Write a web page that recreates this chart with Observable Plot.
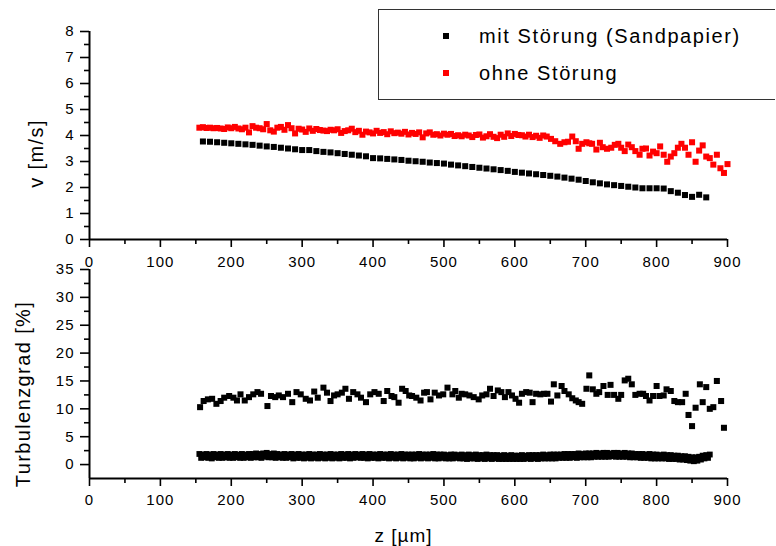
<!DOCTYPE html>
<html>
<head>
<meta charset="utf-8">
<script src="https://cdn.jsdelivr.net/npm/d3@7"></script>
<script src="https://cdn.jsdelivr.net/npm/@observablehq/plot@0.6"></script>
<style>
  html, body { margin: 0; padding: 0; background: #fff; }
  #wrap { position: relative; width: 776px; height: 546px; overflow: hidden; font-family: "Liberation Sans", Arial, sans-serif; }
  #wrap svg { position: absolute; left: 0; }
  #legend { position: absolute; left: 378px; top: 9px; width: 396px; height: 89px; border: 1px solid #333; border-right: none; background: #fff; box-sizing: content-box; }
  .lg-row { position: absolute; left: 0; height: 24px; line-height: 24px; font-size: 20px; letter-spacing: 1.6px; color: #000; white-space: nowrap; }
  .lg-sq { position: absolute; width: 6px; height: 6px; }
  .lg-tx { position: absolute; left: 100px; top: 0; }
</style>
</head>
<body>
<div id="wrap">
  <div id="legend"></div>
</div>
<script>
// ---------- data ----------
const seriesNames = ["mit Störung (Sandpapier)", "ohne Störung"];
const seriesColors = ["#000000", "#ff0000"];

// top panel, "mit Störung (Sandpapier)": z [µm], v [m/s]
const mitZ = [160,170,180,190,200,210,220,230,240,250,260,270,280,290,300,310,320,330,340,350,
  360,370,380,390,400,410,420,430,440,450,460,470,480,490,500,510,520,530,540,550,
  560,570,580,590,600,610,620,630,640,650,660,670,680,690,700,710,720,730,740,750,
  760,770,780,790,800,810,820,830,840,850,860,870];
const mitV = [3.77,3.76,3.74,3.72,3.70,3.68,3.66,3.64,3.61,3.58,3.56,3.53,3.50,3.47,3.44,3.44,3.40,3.37,3.35,3.32,
  3.29,3.26,3.23,3.20,3.13,3.12,3.10,3.08,3.06,3.03,3.01,2.99,2.96,2.94,2.92,2.88,2.85,2.82,2.79,2.76,
  2.73,2.70,2.67,2.64,2.60,2.57,2.54,2.51,2.48,2.45,2.42,2.38,2.34,2.30,2.25,2.20,2.16,2.12,2.09,2.06,
  2.03,2.00,1.97,1.97,1.97,1.96,1.86,1.80,1.71,1.64,1.72,1.62];

// top panel, "ohne Störung": z [µm], v [m/s]
const ohneZ = [155,160,165,170,175,180,185,190,195,200,205,210,215,220,225,230,235,240,245,250,
  255,260,265,270,275,280,285,290,295,300,305,310,315,320,325,330,335,340,345,350,
  355,360,365,370,375,380,385,390,395,400,405,410,415,420,425,430,435,440,445,450,
  455,460,465,470,475,480,485,490,495,500,505,510,515,520,525,530,535,540,545,550,
  555,560,565,570,575,580,585,590,595,600,605,610,615,620,625,630,635,640,
  645,651,657,664,670,675,681,686,690,695,701,705,709,715,720,724,730,736,741,746,
  750,755,760,765,770,776,780,785,790,795,800,805,810,815,820,825,830,835,840,845,
  850,855,860,865,870,875,880,885,890,895,900];
const ohneV = [4.30,4.32,4.29,4.30,4.28,4.29,4.27,4.25,4.31,4.28,4.33,4.27,4.24,4.30,4.12,4.36,4.30,4.28,4.24,4.44,
  4.20,4.15,4.30,4.33,4.22,4.40,4.28,4.08,4.26,4.23,4.14,4.27,4.18,4.25,4.21,4.19,4.17,4.22,4.20,4.24,
  4.10,4.17,4.20,4.26,4.13,4.18,4.03,4.15,4.12,4.08,4.18,4.10,4.13,4.05,4.16,4.09,4.11,4.07,4.14,4.04,
  4.10,4.06,4.12,3.93,4.08,4.12,4.03,4.05,4.00,4.07,4.03,4.06,3.98,4.01,3.97,4.03,4.00,3.94,4.02,4.04,
  3.92,3.97,4.05,3.95,3.90,4.03,3.95,4.08,3.98,4.06,4.02,4.01,3.96,4.03,3.94,3.99,3.91,4.00,
  3.96,3.87,3.78,3.68,3.74,3.76,3.96,3.78,3.49,3.68,3.74,3.70,3.68,3.46,3.72,3.55,3.49,3.53,3.64,3.68,
  3.53,3.40,3.65,3.55,3.40,3.26,3.49,3.50,3.23,3.38,3.32,3.58,3.26,2.99,3.19,3.32,3.53,3.68,3.53,3.26,
  3.74,2.99,3.42,3.62,3.19,3.13,2.88,3.26,2.74,2.56,2.90];

// bottom panel, upper scatter: z [µm], Turbulenzgrad [%]
const tuHighZ = [156,161,167,173,179,185,190,197,203,208,213,219,225,231,237,242,251,256,262,267,
  273,280,286,292,298,305,311,317,322,330,335,340,345,350,356,361,366,372,378,383,
  390,396,402,408,415,420,426,430,436,441,446,451,455,461,467,472,476,481,487,493,
  499,505,512,516,521,525,530,536,542,549,554,560,565,570,576,581,586,591,596,601,
  606,610,616,621,625,630,636,641,646,651,655,660,666,670,676,681,686,690,695,701,
  705,710,715,719,725,731,735,740,746,750,755,760,765,770,776,781,785,790,795,800,
  804,810,814,820,825,830,836,841,845,850,855,861,865,870,875,880,885,891,895];
const tuHighV = [10.3,11.4,11.7,11.8,10.9,11.4,12.0,12.3,12.0,11.5,12.6,11.5,12.1,12.6,13.0,12.7,10.5,12.3,12.1,12.4,
  12.1,12.7,11.2,13.0,12.6,11.8,11.5,13.1,12.0,13.8,12.9,11.4,12.4,12.6,12.9,13.6,11.8,13.0,12.6,12.0,
  11.2,12.6,13.0,12.7,11.4,13.2,12.3,12.1,11.1,13.6,13.2,12.4,12.3,12.0,11.5,12.9,13.0,11.7,12.9,12.4,
  12.6,13.8,12.6,13.2,12.0,12.7,12.6,12.4,12.1,11.7,12.4,12.6,13.6,12.3,13.3,13.0,12.1,13.0,12.4,11.8,
  11.1,12.7,13.0,12.9,11.2,12.7,12.6,12.7,12.7,11.3,14.4,12.4,14.1,13.2,12.6,11.9,11.5,11.2,10.9,13.6,
  16.0,13.5,12.7,13.0,14.1,12.5,14.3,12.5,11.8,12.5,15.1,15.4,14.4,12.5,12.7,12.7,12.3,11.5,12.3,14.1,
  12.3,12.4,13.5,13.2,11.4,11.2,11.2,12.7,8.9,6.9,10.2,14.4,11.2,13.9,10.0,10.3,15.0,11.4,6.6];

// bottom panel, lower (dense) band: z [µm], Turbulenzgrad [%]
const tuLowZ = [
  155,157.5,160,162.5,165,167.5,170,172.5,175,177.5,180,182.5,185,187.5,190,192.5,195,197.5,200,202.5,
  205,207.5,210,212.5,215,217.5,220,222.5,225,227.5,230,232.5,235,237.5,240,242.5,245,247.5,250,252.5,
  255,257.5,260,262.5,265,267.5,270,272.5,275,277.5,280,282.5,285,287.5,290,292.5,295,297.5,300,302.5,
  305,307.5,310,312.5,315,317.5,320,322.5,325,327.5,330,332.5,335,337.5,340,342.5,345,347.5,350,352.5,
  355,357.5,360,362.5,365,367.5,370,372.5,375,377.5,380,382.5,385,387.5,390,392.5,395,397.5,400,402.5,
  405,407.5,410,412.5,415,417.5,420,422.5,425,427.5,430,432.5,435,437.5,440,442.5,445,447.5,450,452.5,
  455,457.5,460,462.5,465,467.5,470,472.5,475,477.5,480,482.5,485,487.5,490,492.5,495,497.5,500,502.5,
  505,507.5,510,512.5,515,517.5,520,522.5,525,527.5,530,532.5,535,537.5,540,542.5,545,547.5,550,552.5,
  555,557.5,560,562.5,565,567.5,570,572.5,575,577.5,580,582.5,585,587.5,590,592.5,595,597.5,600,602.5,
  605,607.5,610,612.5,615,617.5,620,622.5,625,627.5,630,632.5,635,637.5,640,642.5,645,647.5,650,652.5,
  655,657.5,660,662.5,665,667.5,670,672.5,675,677.5,680,682.5,685,687.5,690,692.5,695,697.5,700,702.5,
  705,707.5,710,712.5,715,717.5,720,722.5,725,727.5,730,732.5,735,737.5,740,742.5,745,747.5,750,752.5,
  755,757.5,760,762.5,765,767.5,770,772.5,775,777.5,780,782.5,785,787.5,790,792.5,795,797.5,800,802.5,
  805,807.5,810,812.5,815,817.5,820,822.5,825,827.5,830,832.5,835,837.5,840,842.5,845,847.5,850,852.5,
  855,857.5,860,862.5,865,867.5,870,872.5,875];
const tuLowV = [
  1.9,1.2,1.8,1.3,1.9,1.2,1.8,1.1,1.9,1.3,1.8,1.2,1.9,1.2,1.8,1.3,1.9,1.2,1.8,1.2,
  1.9,1.3,1.8,1.2,1.9,1.2,1.8,1.3,1.9,1.2,1.9,1.3,2.0,1.3,1.9,1.2,2.0,1.4,2.1,1.3,
  1.9,1.3,2.0,1.2,1.9,1.3,1.8,1.2,1.9,1.2,1.8,1.3,1.9,1.1,1.8,1.2,1.9,1.2,1.8,1.1,
  1.8,1.2,1.9,1.1,1.8,1.2,1.8,1.1,1.9,1.2,1.8,1.1,1.8,1.2,1.9,1.1,1.8,1.2,1.8,1.1,
  1.9,1.2,1.8,1.2,1.9,1.1,1.8,1.2,1.9,1.3,1.8,1.2,1.9,1.2,1.8,1.1,1.9,1.2,1.8,1.2,
  1.8,1.1,1.9,1.2,1.8,1.2,1.8,1.1,1.9,1.2,1.8,1.1,1.8,1.2,1.9,1.1,1.8,1.2,1.8,1.1,
  1.8,1.1,1.8,1.2,1.9,1.1,1.8,1.2,1.8,1.1,1.8,1.2,1.9,1.1,1.8,1.1,1.8,1.2,1.8,1.1,
  1.7,1.1,1.8,1.1,1.8,1.2,1.7,1.1,1.8,1.1,1.7,1.0,1.8,1.1,1.7,1.1,1.8,1.0,1.7,1.1,
  1.7,1.0,1.8,1.1,1.7,1.0,1.7,1.1,1.7,1.0,1.6,1.0,1.7,1.0,1.6,1.0,1.7,1.0,1.6,1.0,
  1.6,1.0,1.7,1.0,1.6,1.1,1.7,1.0,1.7,1.1,1.7,1.0,1.7,1.1,1.8,1.1,1.7,1.1,1.8,1.1,
  1.8,1.1,1.8,1.2,1.8,1.2,1.9,1.2,1.9,1.2,1.9,1.3,1.9,1.2,2.0,1.3,1.9,1.3,2.0,1.3,
  2.0,1.3,2.0,1.4,2.1,1.4,2.0,1.4,2.1,1.4,2.1,1.4,2.0,1.5,2.1,1.4,2.1,1.4,2.0,1.4,
  2.1,1.4,2.0,1.3,2.0,1.3,1.9,1.3,1.9,1.2,1.9,1.2,1.8,1.2,1.9,1.1,1.8,1.1,1.8,1.1,
  1.7,1.1,1.8,1.1,1.7,1.0,1.7,1.0,1.6,1.0,1.6,0.9,1.5,0.9,1.5,0.8,1.4,0.7,1.3,0.6,
  1.3,0.7,1.4,0.9,1.6,1.1,1.7,1.2,1.8];

// axis ticks
const xMajor = [0,100,200,300,400,500,600,700,800,900];
const xMinor = [50,150,250,350,450,550,650,750,850];
const vMajor = [0,1,2,3,4,5,6,7,8];
const vMinor = [0.5,1.5,2.5,3.5,4.5,5.5,6.5,7.5];
const tuMajor = [0,5,10,15,20,25,30,35];
const tuMinor = [2.5,7.5,12.5,17.5,22.5,27.5,32.5];
const vLabel = "v [m/s]";
const tuLabel = "Turbulenzgrad [%]";
const zLabel = "z [µm]";

// ---------- build ----------
const rows = (zs, vs) => zs.map((z, i) => ({z, v: vs[i]}));
const baseStyle = {
  fontFamily: "'Liberation Sans', Arial, sans-serif",
  fontSize: "15px",
  letterSpacing: "1px",
  background: "transparent",
  overflow: "visible",
  color: "#000"
};
const AX = 1.6;

const topPlot = Plot.plot({
  width: 776, height: 270,
  marginLeft: 89, marginRight: 49, marginTop: 31, marginBottom: 31,
  style: baseStyle,
  x: {domain: [0, 900], label: null},
  y: {domain: [0, 8], label: null},
  marks: [
    Plot.axisX(xMajor, {tickSize: 8, tickPadding: 9, strokeWidth: AX, label: null}),
    Plot.axisX(xMinor, {tickSize: 5, strokeWidth: AX, tickFormat: () => "", label: null}),
    Plot.axisY(vMajor, {tickSize: 9, tickPadding: 6, strokeWidth: AX, label: null}),
    Plot.axisY(vMinor, {tickSize: 5, strokeWidth: AX, tickFormat: () => "", label: null}),
    Plot.ruleX([0], {strokeWidth: 2}),
    Plot.ruleY([0], {strokeWidth: 2}),
    Plot.dot(rows(mitZ, mitV), {x: "z", y: "v", symbol: "square", r: 3.4, fill: seriesColors[0], stroke: null}),
    Plot.dot(rows(ohneZ, ohneV), {x: "z", y: "v", symbol: "square", r: 3.4, fill: seriesColors[1], stroke: null}),
    Plot.text([vLabel], {text: d => d, frameAnchor: "left", dx: -53, dy: 18, rotate: -90, fontSize: 20, lineAnchor: "middle", textAnchor: "middle"})
  ]
});
topPlot.style.top = "0px";

const bottomPlot = Plot.plot({
  width: 776, height: 286,
  marginLeft: 89, marginRight: 49, marginTop: 9, marginBottom: 68,
  style: baseStyle,
  x: {domain: [0, 900], label: null},
  y: {domain: [-2.5, 35], label: null},
  marks: [
    Plot.axisX(xMajor, {tickSize: 8, tickPadding: 8, strokeWidth: AX, label: null}),
    Plot.axisX(xMinor, {tickSize: 5, strokeWidth: AX, tickFormat: () => "", label: null}),
    Plot.axisY(tuMajor, {tickSize: 9, tickPadding: 6, strokeWidth: AX, label: null}),
    Plot.axisY(tuMinor, {tickSize: 5, strokeWidth: AX, tickFormat: () => "", label: null}),
    Plot.ruleX([0], {strokeWidth: 2}),
    Plot.ruleY([-2.5], {strokeWidth: 2}),
    Plot.dot(rows(tuLowZ, tuLowV), {x: "z", y: "v", symbol: "square", r: 3.3, fill: "#000", stroke: null}),
    Plot.dot(rows(tuHighZ, tuHighV), {x: "z", y: "v", symbol: "square", r: 3.4, fill: "#000", stroke: null}),
    Plot.text([tuLabel], {text: d => d, frameAnchor: "left", dx: -66, dy: 20, rotate: -90, fontSize: 20, lineAnchor: "middle", textAnchor: "middle"}),
    Plot.text([zLabel], {text: d => d, frameAnchor: "bottom", dx: -5, dy: 57, fontSize: 19, lineAnchor: "middle", textAnchor: "middle"})
  ]
});
bottomPlot.style.top = "260px";

// slightly wider tracking on the axis titles, as in the reference
[topPlot, bottomPlot].forEach(svg => {
  d3.select(svg).selectAll("text").filter(function() {
    const t = this.textContent;
    return t === vLabel || t === tuLabel;
  }).style("letter-spacing", "1.4px");
});

const wrap = document.getElementById("wrap");
wrap.insertBefore(bottomPlot, wrap.firstChild);
wrap.insertBefore(topPlot, wrap.firstChild);

// legend
const legend = document.getElementById("legend");
const rowTops = [14, 51];
seriesNames.forEach((name, i) => {
  const row = document.createElement("div");
  row.className = "lg-row";
  row.style.top = rowTops[i] + "px";
  row.style.width = "390px";
  const sq = document.createElement("div");
  sq.className = "lg-sq";
  sq.style.background = seriesColors[i];
  sq.style.left = "64px";
  sq.style.top = "9px";
  const tx = document.createElement("span");
  tx.className = "lg-tx";
  tx.textContent = name;
  row.appendChild(sq);
  row.appendChild(tx);
  legend.appendChild(row);
});
</script>
</body>
</html>
